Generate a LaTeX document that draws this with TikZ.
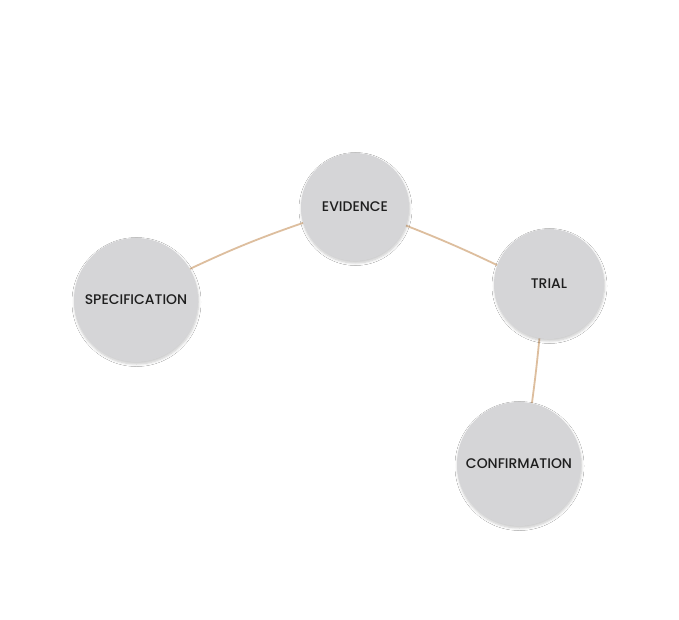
\documentclass[tikz,border=0pt]{standalone}
\usepackage{fontspec}
\setmainfont{Poppins Medium}
\usetikzlibrary{shadows.blur,backgrounds}
\definecolor{disc}{HTML}{D5D5D7}
\definecolor{twine}{HTML}{DDBE9E}
\definecolor{ink}{HTML}{1E1E1E}
\tikzset{
  disc/.style={circle, fill=disc, inner sep=0pt, text=ink,
    font=\fontsize{14}{16}\selectfont,
    blur shadow={shadow xshift=0.5bp, shadow yshift=-2bp, shadow blur steps=6, shadow blur radius=2.5bp, shadow opacity=22}},
  cord/.style={draw=twine, line width=1.8bp}
}
\begin{document}
\begin{tikzpicture}[x=1bp,y=-1bp]
\node[disc, minimum size=124bp] (spec) at (136,300) {SPECIFICATION};
\node[disc, minimum size=108bp] (evid) at (355,207) {EVIDENCE};
\node[disc, minimum size=110bp] (trial) at (549,284) {TRIAL};
\node[disc, minimum size=124bp] (conf) at (519,464) {CONFIRMATION};
\begin{scope}[on background layer]
\fill[white] (0,0) rectangle (679,620);
\draw[cord] (spec.30) to[bend left=3] (evid.197);
\draw[cord] (evid.-20) to[bend left=2] (trial.160);
\draw[cord] (trial.-100) to[bend left=1] (conf.78);
\end{scope}
\useasboundingbox (0,0) rectangle (679,620);
\end{tikzpicture}
\end{document}
